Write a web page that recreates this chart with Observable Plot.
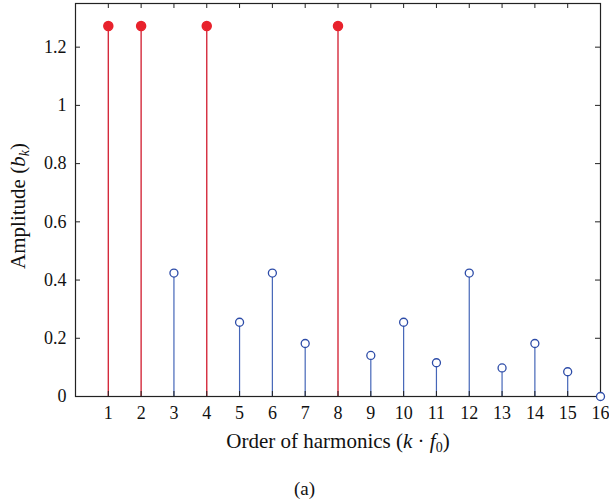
<!DOCTYPE html>
<html>
<head>
<meta charset="utf-8">
<script src="https://cdn.jsdelivr.net/npm/d3@7"></script>
<script src="https://cdn.jsdelivr.net/npm/@observablehq/plot@0.6"></script>
<style>
  body { margin: 0; background: #fff; }
  #chart svg, #chart svg text { font-family: "Liberation Serif", serif !important; }
  #cap { width: 609px; text-align: center; font: 19px "Liberation Serif", serif; line-height: 1; padding-top: 9px; height: 23px; color: #111; }
</style>
</head>
<body>
<div id="chart"></div>
<div id="cap">(a)</div>
<script>
// Harmonic orders
const orders = [1, 2, 3, 4, 5, 6, 7, 8, 9, 10, 11, 12, 13, 14, 15, 16];
// Amplitudes b_k
const amplitudes = [1.273, 1.273, 0.424, 1.273, 0.255, 0.424, 0.182, 1.273, 0.141, 0.255, 0.116, 0.424, 0.098, 0.182, 0.085, 0.0];
// Highlighted (red, filled) harmonics
const highlighted = [1, 2, 4, 8];
const xTicks = orders;
const yTicks = [0, 0.2, 0.4, 0.6, 0.8, 1, 1.2];

const data = orders.map((k, i) => ({k, b: amplitudes[i], hi: highlighted.includes(k)}));
const red = data.filter(d => d.hi);
const blue = data.filter(d => !d.hi);

const W = 609, H = 470, mT = 3, mB = 74, mL = 75, mR = 9;
const innerH = H - mT - mB, innerW = W - mL - mR;
const tl = 5;

const chart = Plot.plot({
  width: W, height: H,
  marginTop: mT, marginBottom: mB, marginLeft: mL, marginRight: mR,
  style: {fontFamily: "'Liberation Serif', serif", fontSize: "18px", color: "#111", background: "#fff"},
  x: {domain: [0, 16]},
  y: {domain: [0, 1.35]},
  marks: [
    Plot.ruleX(blue, {x: "k", y1: 0, y2: "b", stroke: "#4566b8", strokeWidth: 1.2}),
    Plot.ruleX(red, {x: "k", y1: 0, y2: "b", stroke: "#d42a3c", strokeWidth: 1.4}),
    // inward ticks
    Plot.tickX(xTicks, {x: d => d, insetTop: innerH - tl, stroke: "#222"}),
    Plot.tickX(xTicks, {x: d => d, insetBottom: innerH - tl, stroke: "#222"}),
    Plot.tickY(yTicks, {y: d => d, insetRight: innerW - tl, stroke: "#222"}),
    Plot.tickY(yTicks, {y: d => d, insetLeft: innerW - tl, stroke: "#222"}),
    Plot.frame({stroke: "#222", strokeWidth: 1.2}),
    Plot.axisX({ticks: xTicks, tickSize: 0, tickPadding: 10, label: null, tickFormat: d => String(d), fontSize: 18}),
    Plot.axisY({ticks: yTicks, tickSize: 0, tickPadding: 9, label: null, tickFormat: d => String(d), fontSize: 18}),
    Plot.dot(blue, {x: "k", y: "b", r: 4, stroke: "#2d4ca8", strokeWidth: 1.3, fill: "white"}),
    Plot.dot(red, {x: "k", y: "b", r: 4.5, fill: "#e8222c", stroke: "#e8222c"}),
    Plot.text(["Amplitude (bk)"], {frameAnchor: "left", textAnchor: "middle", dx: -57, dy: 6, rotate: -90, text: d => d, fontSize: 21, fill: "#111"}),
    Plot.text(["Order of harmonics (k · f0)"], {frameAnchor: "bottom", textAnchor: "middle", dy: 51, text: d => d, fontSize: 21, fill: "#111"})
  ]
});

chart.querySelectorAll("text").forEach(t => {
  if (t.textContent === "Amplitude (bk)") {
    t.innerHTML = 'Amplitude (<tspan font-style="italic">b</tspan><tspan font-style="italic" font-size="14" dy="4">k</tspan><tspan dy="-4">)</tspan>';
  } else if (t.textContent === "Order of harmonics (k · f0)") {
    t.innerHTML = 'Order of harmonics (<tspan font-style="italic">k</tspan> \u00b7 <tspan font-style="italic">f</tspan><tspan font-size="14" dy="4">0</tspan><tspan dy="-4">)</tspan>';
  }
});

document.getElementById("chart").appendChild(chart);
</script>
</body>
</html>
